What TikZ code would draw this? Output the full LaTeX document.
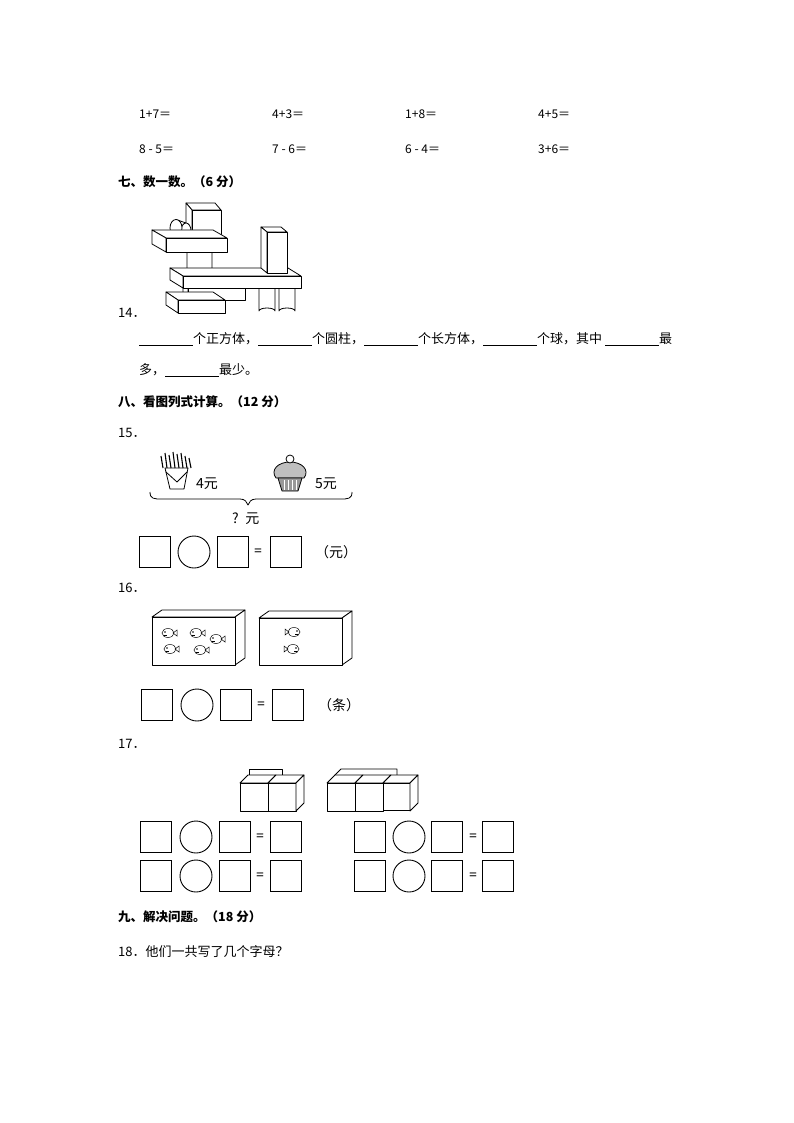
\documentclass[tikz,border=0pt]{standalone}
\usepackage{fontspec}
\setmainfont{Liberation Serif}
\newfontfamily\cjk{Noto Sans CJK SC}
\newcommand{\blk}{\underline{\hspace{54pt}}}
\begin{document}
\begin{tikzpicture}[x=1pt,y=-1pt,
  txt/.style={anchor=west,inner sep=0pt,font=\cjk\fontsize{13}{15}\selectfont},
  hd/.style={anchor=west,inner sep=0pt,font=\cjk\bfseries\fontsize{12.5}{15}\selectfont},
  sq/.style={draw,line width=0.9pt,minimum width=31pt,minimum height=31pt,inner sep=0pt},
  cir/.style={draw,line width=0.9pt,circle,minimum size=32pt,inner sep=0pt},
  eqs/.style={inner sep=0pt,font=\bfseries\fontsize{14}{14}\selectfont},
  ln/.style={line width=0.8pt,line join=round},
  fish/.style={line width=0.5pt}]
\useasboundingbox (0,0) rectangle (794,1123);
% arithmetic rows
\foreach \t/\x/\y [count=\i] in {1+7＝/139/114,4+3＝/272/114,1+8＝/405/114,4+5＝/538/114,8 - 5＝/139/149,7 - 6＝/272/149,6 - 4＝/405/149,3+6＝/538/149}
  \node[txt,font=\cjk\fontsize{12}{14}\selectfont] (e\i) at (\x,\y) {\t};
\node[hd] (h7) at (118,182) {七、数一数。（6 分）};
% blocks picture
\newcommand{\bx}[6]{% x1 y1 x2 y2 dx dy  (back offset up-left)
  \draw[ln,fill=white] (#1,#2) -- ++(#5,#6) -- (#3+#5,#2+#6) -- (#3,#2) -- cycle;
  \draw[ln,fill=white] (#1,#2) -- ++(#5,#6) -- (#1+#5,#4+#6) -- (#1,#4) -- cycle;
  \draw[ln,fill=white] (#1,#2) rectangle (#3,#4);}
\newcommand{\vcyl}[4]{% x1 x2 ytop ybot
  \draw[ln,fill=white] (#1,#3) -- (#1,#4) arc (180:360:{(#2-#1)/2} and 3) -- (#2,#3);}
\vcyl{259}{275}{288}{311}
\vcyl{279}{295}{288}{311}
\bx{188}{288}{245}{300}{-5}{-5}
\bx{178}{300}{225}{313}{-12}{-8}
\vcyl{187}{212}{252}{273}
\bx{183}{276}{301}{288}{-13}{-8}
\bx{267}{232}{287}{273}{-6}{-5}
\bx{192}{210}{221}{237}{-6}{-7}
\draw[ln,fill=white] (176,219.5) -- (186,223) -- (186,239) -- (176,236.5) -- cycle;
\draw[ln,fill=white] (186,231) ellipse (5 and 8);
\draw[ln,fill=white] (176,228) ellipse (6 and 8.5);
\bx{166}{238}{227}{252}{-14}{-8}
\node[txt] (n14) at (118,313) {14．};
\node[txt] (l1) at (139,339) {\blk 个正方体，\blk 个圆柱，\blk 个长方体，\blk 个球，其中 \blk 最};
\node[txt] (l2) at (139,370) {多，\blk 最少。};
\node[hd] (h8) at (118,402) {八、看图列式计算。（12 分）};
\node[txt] (n15) at (118,433) {15．};
% fries
\draw[ln] (165,468) -- (170,489) -- (184,489) -- (188,468) -- cycle;
\draw[ln] (166,472) -- (177,482) -- (187,472);
\foreach \a/\b in {161/456,165/453,169/455,173/452,177/454,181/453,185/456,189/458}
  \draw[line width=1.1pt] (\a,\b) -- (\a+2,468);
\node[txt,font=\fontsize{14}{14}\selectfont\cjk] (p4) at (196,484) {4元};
% cupcake
\draw[ln,fill=gray!50] (276,478) .. controls (270,470) and (278,462) .. (290,462) .. controls (302,462) and (310,470) .. (304,478) -- cycle;
\draw[ln,fill=gray!80] (278,478) -- (282,491) -- (298,491) -- (302,478) -- cycle;
\foreach \a in {284,288,292,296} \draw[line width=0.6pt,white] (\a,480) -- (\a,490);
\draw[ln,fill=white] (290,459) circle (4);
\node[txt,font=\fontsize{14}{14}\selectfont\cjk] (p5) at (315,484) {5元};
% brace
\draw[ln] (150,492) .. controls (150,499) and (154,499) .. (162,499) -- (240,499) .. controls (245,499) and (247,502) .. (248,505) .. controls (249,502) and (251,499) .. (256,499) -- (340,499) .. controls (348,499) and (352,499) .. (352,492);
\node[txt,font=\fontsize{14}{14}\selectfont\cjk] (q) at (232,519) {?\, 元};
% row 15
\node[sq] (a1) at (154.5,552) {};
\node[cir] (a2) at (194,552) {};
\node[sq] (a3) at (233,552) {};
\node[eqs] (a4) at (258,552) {=};
\node[sq] (a5) at (285.5,552) {};
\node[txt,font=\fontsize{14}{14}\selectfont\cjk] (a6) at (315,552) {（元）};
\node[txt] (n16) at (118,588) {16．};
% fish boxes
\newcommand{\rb}[6]{% front x1 y1 x2 y2, offset dx dy up-right
  \draw[ln,fill=white] (#1,#2) -- ++(#5,#6) -- (#3+#5,#2+#6) -- (#3,#2) -- cycle;
  \draw[ln,fill=white] (#3,#2) -- ++(#5,#6) -- (#3+#5,#4+#6) -- (#3,#4) -- cycle;
  \draw[ln,fill=white] (#1,#2) rectangle (#3,#4);}
\rb{152}{617}{235}{665}{10}{-7}
\rb{259}{618}{342}{665}{10}{-7}
\newcommand{\fishL}[2]{\begin{scope}[shift={(#1,#2)}]
  \draw[fish] (0,0) ellipse (6 and 4.5); \draw[fish] (5,0) -- (9,-3) -- (9,3) -- cycle;
  \fill (-3,-1) circle (0.8); \draw[fish] (-4,2) -- (-1,2);\end{scope}}
\newcommand{\fishR}[2]{\begin{scope}[shift={(#1,#2)},xscale=-1]
  \draw[fish] (0,0) ellipse (6 and 4.5); \draw[fish] (5,0) -- (9,-3) -- (9,3) -- cycle;
  \fill (-3,-1) circle (0.8); \draw[fish] (-4,2) -- (-1,2);\end{scope}}
\fishL{168}{633}\fishL{196}{633}\fishL{216}{639}\fishL{170}{649}\fishL{200}{650}
\fishR{294}{632}\fishR{293}{649}
% row 16
\node[sq] (b1) at (156.5,705) {};
\node[cir] (b2) at (197,705) {};
\node[sq] (b3) at (235.5,705) {};
\node[eqs] (b4) at (261,705) {=};
\node[sq] (b5) at (287.5,705) {};
\node[txt,font=\fontsize{14}{14}\selectfont\cjk] (b6) at (318,705) {（条）};
\node[txt] (n17) at (118,744) {17．};
% cubes
\newcommand{\cube}[3]{% x y size (front top-left)
  \draw[ln,fill=white] (#1,#2) -- ++(8,-8) -- ++(#3,0) -- (#1+#3,#2) -- cycle;
  \draw[ln,fill=white] (#1,#2) rectangle ++(#3,#3);}
\draw[ln] (249,775) -- (249,769) -- (282,769) -- (282,775);
\draw[ln] (335,775) -- (341,769) -- (397,769) -- (397,775);
\cube{240}{783}{28}\cube{268}{783}{28}
\draw[ln,fill=white] (296,783) -- ++(8,-8) -- ++(0,28) -- (296,811) -- cycle;
\cube{327}{783}{28}\cube{355}{783}{28}\cube{383}{783}{27}
\draw[ln,fill=white] (410,783) -- ++(8,-8) -- ++(0,28) -- (410,811) -- cycle;
% rows 17
\foreach \y [count=\r] in {837,876}{
  \node[sq] (c\r a) at (156,\y) {};
  \node[cir] (c\r b) at (196,\y) {};
  \node[sq] (c\r c) at (235,\y) {};
  \node[eqs] (c\r d) at (260,\y) {=};
  \node[sq] (c\r e) at (286,\y) {};
  \node[sq] (d\r a) at (370,\y) {};
  \node[cir] (d\r b) at (409,\y) {};
  \node[sq] (d\r c) at (447,\y) {};
  \node[eqs] (d\r d) at (473,\y) {=};
  \node[sq] (d\r e) at (497.5,\y) {};
}
\node[hd] (h9) at (118,917) {九、解决问题。（18 分）};
\node[txt] (q18) at (118,952) {18．他们一共写了几个字母？};
\end{tikzpicture}
\end{document}
